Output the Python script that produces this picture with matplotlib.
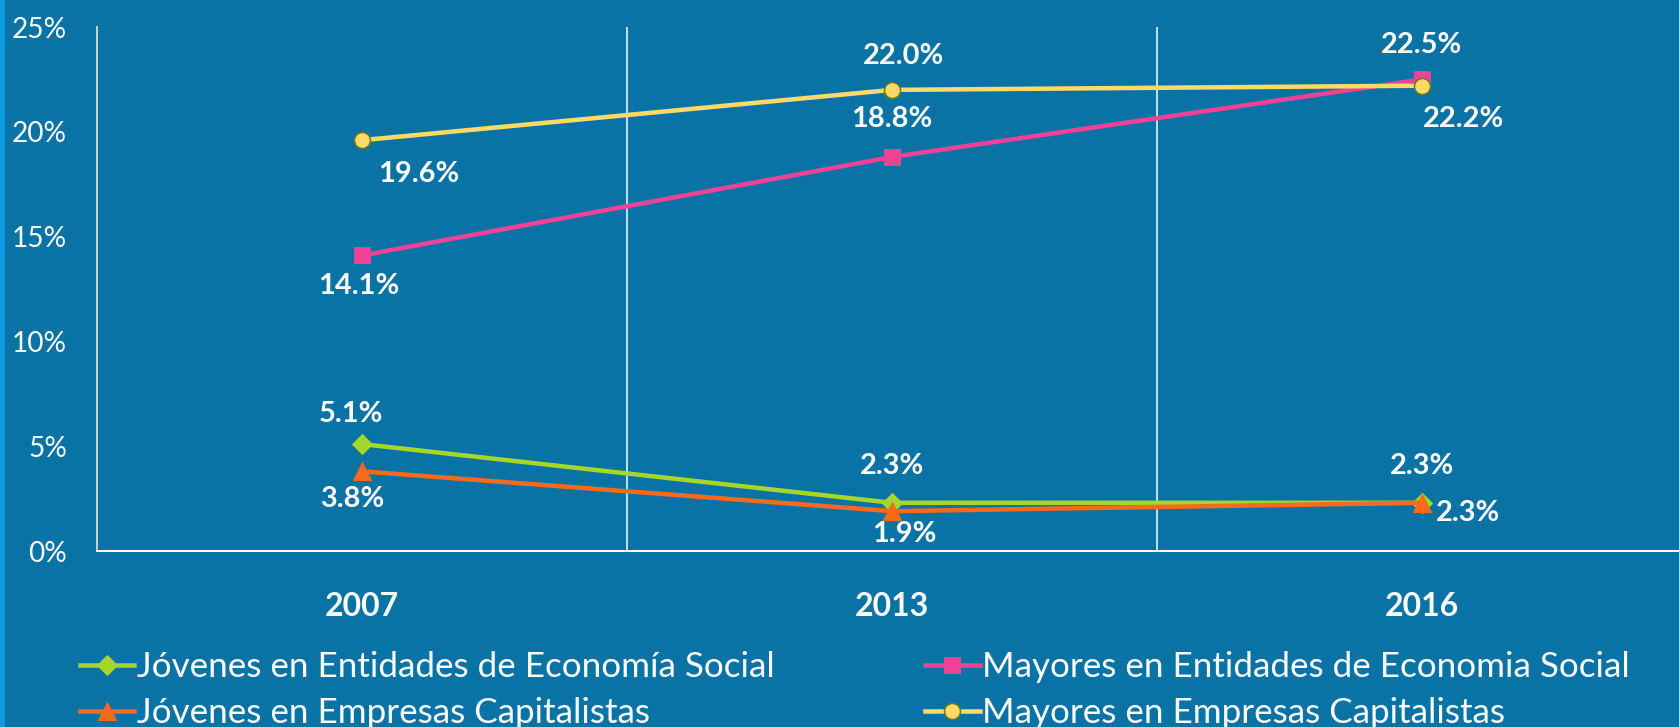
import matplotlib.pyplot as plt
from matplotlib.patches import Rectangle

# datos (%)
years = ['2007', '2013', '2016']
jov_es = [5.1, 2.3, 2.3]
may_es = [14.1, 18.8, 22.5]
jov_ec = [3.8, 1.9, 2.3]
may_ec = [19.6, 22.0, 22.2]

lbl_jov_es = 'Jóvenes en Entidades de Economía Social'
lbl_may_es = 'Mayores en Entidades de Economia Social'
lbl_jov_ec = 'Jóvenes en Empresas Capitalistas'
lbl_may_ec = 'Mayores en Empresas Capitalistas'

bg = '#0A73A6'
W, H = 1679, 727
plt.rcParams['font.family'] = ['Lato', 'DejaVu Sans']

fig = plt.figure(figsize=(W / 72, H / 72), dpi=72, facecolor=bg)
fig.patches.append(Rectangle((0, 0), 5 / W, 1, transform=fig.transFigure,
                             facecolor='#0E9BE2', edgecolor='none'))
ax = fig.add_axes([97 / W, (H - 551) / H, 1590 / W, 524 / H], facecolor=bg)

x = list(range(len(years)))
l1, = ax.plot(x, jov_es, color='#A5D62B', lw=4.5, marker='D', ms=14, zorder=3)
l2, = ax.plot(x, may_es, color='#EE4198', lw=4.5, marker='s', ms=16, zorder=4)
l3, = ax.plot(x, jov_ec, color='#F56A1D', lw=4.5, marker='^', ms=18, zorder=5)
l4, = ax.plot(x, may_ec, color='#FDD965', lw=4.5, marker='o', ms=16,
              markeredgecolor='#6B7A1A', markeredgewidth=1.5, zorder=6)

def lab(xi, yi, dx, dy):
    ax.annotate(f'{yi:.1f}%', (xi, yi), xytext=(dx, -dy), textcoords='offset points',
                ha='center', va='center', color='white', fontsize=29, fontweight='bold',
                zorder=10)

# offsets in pixels (dy positive = down)
for xi, yi, d in zip(x, jov_es, [(-11, -30), (0, -37), (0, -37)]):
    lab(xi, yi, *d)
for xi, yi, d in zip(x, jov_ec, [(-10, 28), (12, 23), (46, 10)]):
    lab(xi, yi, *d)
for xi, yi, d in zip(x, may_es, [(-3, 31), (0, -38), (0, -34)]):
    lab(xi, yi, *d)
for xi, yi, d in zip(x, may_ec, [(57, 34), (12, -34), (42, 33)]):
    lab(xi, yi, *d)

ax.set_xlim(-0.5, 2.5)
ax.set_ylim(0, 25)
ax.set_yticks([0, 5, 10, 15, 20, 25])
ax.set_yticklabels(['0%', '5%', '10%', '15%', '20%', '25%'])
ax.set_xticks(x)
ax.set_xticklabels(years, fontweight='bold', fontsize=32)
ax.tick_params(axis='y', length=0, pad=30, labelcolor='white', labelsize=28)
ax.tick_params(axis='x', length=0, pad=41, labelcolor='white')

for xv in [0.5, 1.5]:
    ax.axvline(xv, color='white', lw=1.5, zorder=1)
for s in ['top', 'right']:
    ax.spines[s].set_visible(False)
ax.spines['left'].set_color('#C8CDD2')
ax.spines['left'].set_linewidth(2)
ax.spines['bottom'].set_color('white')
ax.spines['bottom'].set_linewidth(2)

leg = fig.legend([l1, l3, l2, l4], [lbl_jov_es, lbl_jov_ec, lbl_may_es, lbl_may_ec],
                 ncol=2, loc='upper left', bbox_to_anchor=(80 / W, 1 - 651 / H),
                 frameon=False, fontsize=35, labelcolor='white', numpoints=1,
                 handlelength=1.55, handletextpad=0.08, columnspacing=4.3,
                 labelspacing=0.4, borderpad=0, borderaxespad=0)

fig.savefig('out.png', dpi=72, facecolor=bg)
